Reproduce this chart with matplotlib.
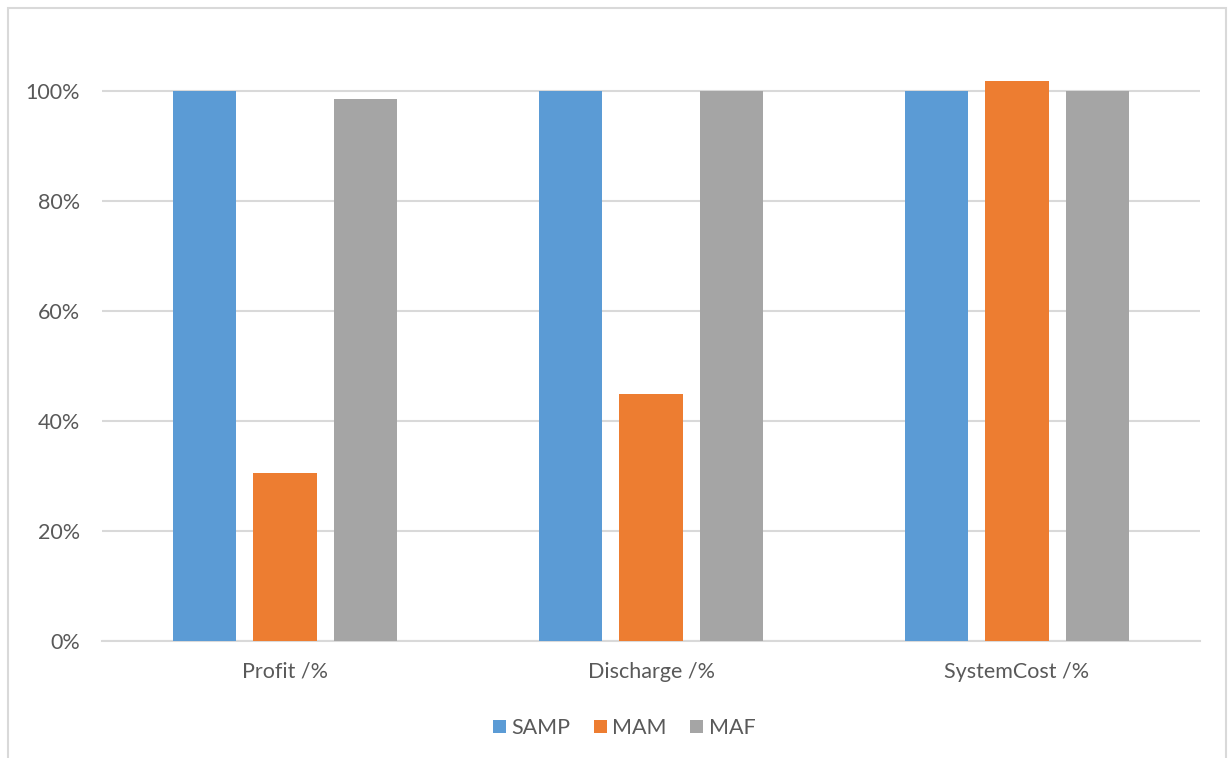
import matplotlib.pyplot as plt
import numpy as np
from matplotlib.patches import Rectangle
from matplotlib.ticker import PercentFormatter

categories = ["Profit /%", "Discharge /%", "SystemCost /%"]
series_names = ["SAMP", "MAM", "MAF"]
samp = [1.00, 1.00, 1.00]
mam = [0.305, 0.449, 1.018]
maf = [0.986, 1.00, 1.00]
colors = ["#5B9BD5", "#ED7D31", "#A5A5A5"]

plt.rcParams["font.family"] = ["Lato", "DejaVu Sans"]
text_color = "#595959"

fig = plt.figure(figsize=(12.28, 7.58), dpi=100)
# chart border
fig.patches.append(Rectangle((8 / 1228, -0.01), 1218 / 1228, 1 - 8 / 758 + 0.01,
                             transform=fig.transFigure, fill=False,
                             edgecolor="#D9D9D9", linewidth=1.5))

ax = fig.add_axes([102 / 1228, 1 - 641 / 758, 1098 / 1228, 605 / 758])

x = np.arange(len(categories))
width = 0.174
step = 0.22
for i, (name, vals) in enumerate(zip(series_names, [samp, mam, maf])):
    ax.bar(x + (i - 1) * step, vals, width, color=colors[i], label=name, zorder=3)

ax.set_xlim(-0.5, len(categories) - 0.5)
ax.set_ylim(0, 1.1)
ax.set_yticks(np.arange(0, 1.01, 0.2))
ax.yaxis.set_major_formatter(PercentFormatter(1.0, decimals=0))
ax.set_xticks(x)
ax.set_xticklabels(categories)
ax.grid(axis="y", color="#D9D9D9", linewidth=1.5, zorder=0)
ax.tick_params(axis="both", length=0, labelsize=15.5, colors=text_color)
ax.tick_params(axis="x", pad=15)
ax.tick_params(axis="y", pad=16)
for s in ["top", "right", "left"]:
    ax.spines[s].set_visible(False)
ax.spines["bottom"].set_color("#D9D9D9")
ax.spines["bottom"].set_linewidth(1.5)

leg = fig.legend(loc="center", bbox_to_anchor=(624 / 1228, 1 - 728 / 758), ncol=3,
                 frameon=False, fontsize=15.5, handlelength=0.6, handleheight=0.6,
                 handletextpad=0.25, columnspacing=1.1)
for t in leg.get_texts():
    t.set_color(text_color)

fig.savefig("out.png", dpi=100)
